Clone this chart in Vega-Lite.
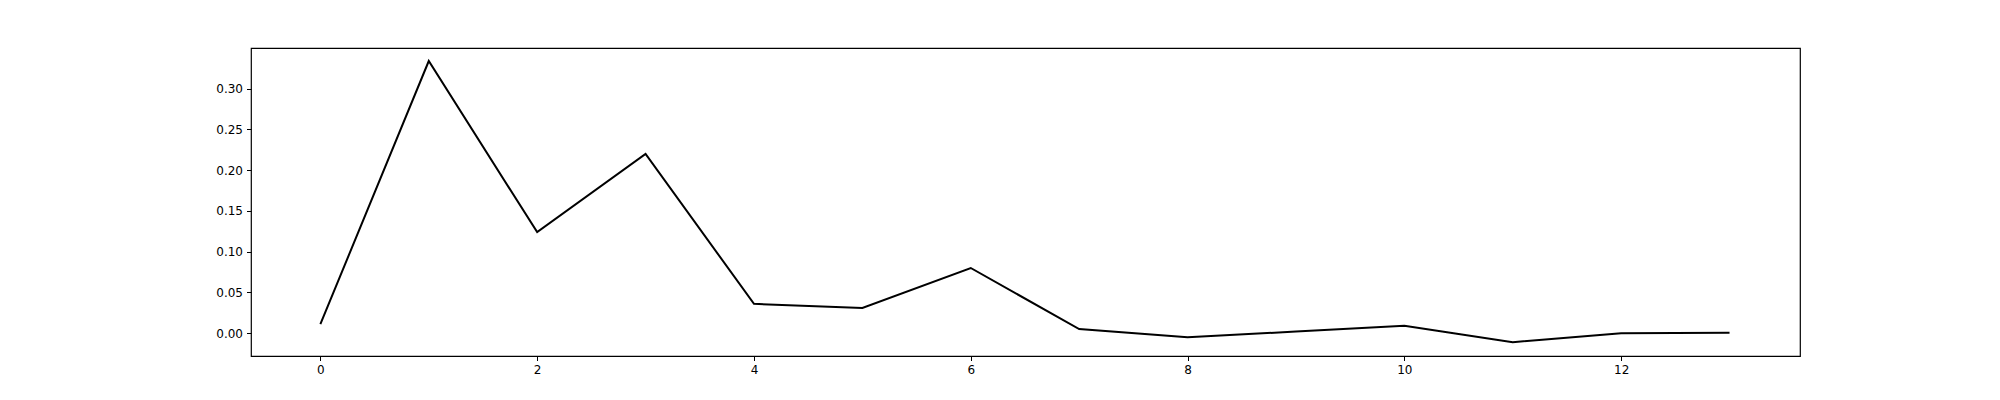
{
"$schema":"https://vega.github.io/schema/vega-lite/v6.json",
"width":1549,"height":308,
"autosize":{"type":"none"},
"padding":{"left":251,"top":48,"right":200,"bottom":44},
"background":"white",
"config":{"view":{"stroke":"black","strokeWidth":1.2},"axis":{"grid":false,"domainColor":"black","tickColor":"black","labelColor":"black","labelFont":"DejaVu Sans","labelFontSize":12,"tickSize":4.5,"title":null,"domain":false}},
"data":{"values":[
{"x":0,"y":0.011},{"x":1,"y":0.334},{"x":2,"y":0.124},{"x":3,"y":0.220},{"x":4,"y":0.036},{"x":5,"y":0.031},{"x":6,"y":0.080},{"x":7,"y":0.005},{"x":8,"y":-0.005},{"x":9,"y":0.002},{"x":10,"y":0.009},{"x":11,"y":-0.011},{"x":12,"y":0.0},{"x":13,"y":0.0005}]},
"mark":{"type":"line","color":"black","strokeWidth":2},
"encoding":{
"x":{"field":"x","type":"quantitative","scale":{"domain":[-0.64,13.65],"nice":false,"zero":false},"axis":{"values":[0,2,4,6,8,10,12],"labelPadding":4}},
"y":{"field":"y","type":"quantitative","scale":{"domain":[-0.028,0.350],"nice":false,"zero":false},"axis":{"values":[0,0.05,0.1,0.15,0.2,0.25,0.3],"format":".2f","labelPadding":4}}
}
}
